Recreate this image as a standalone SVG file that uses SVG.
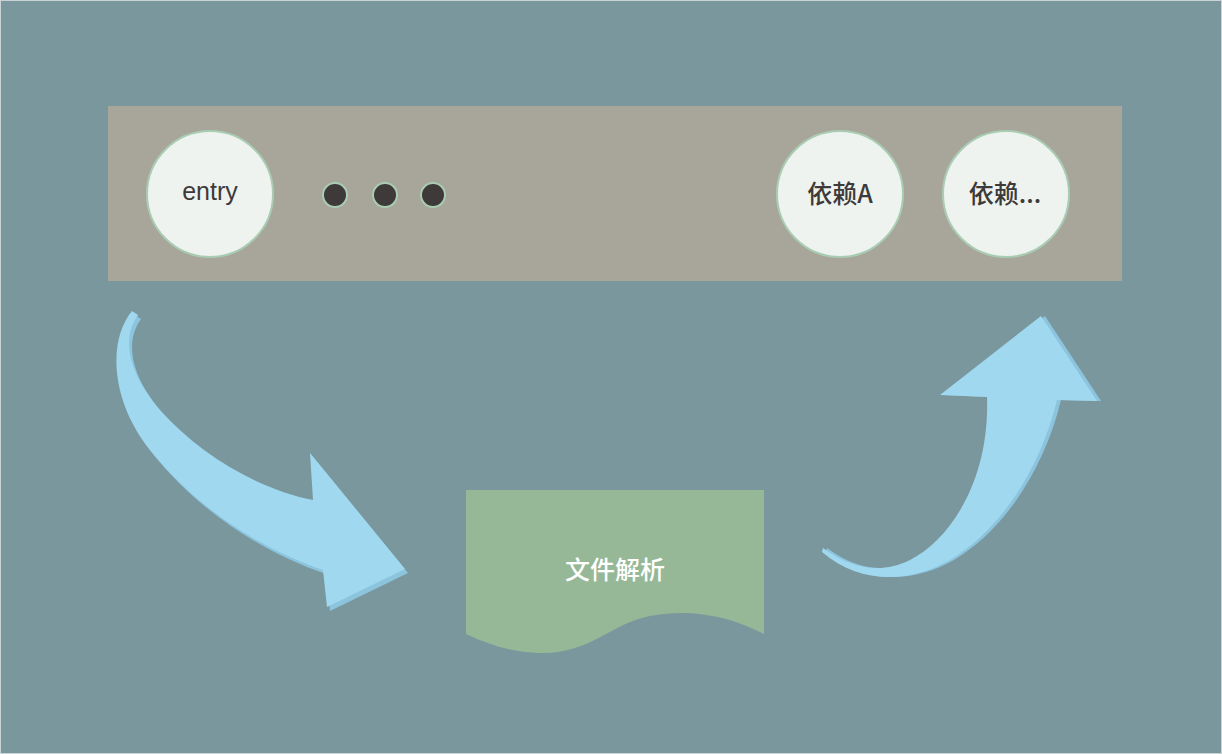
<svg xmlns="http://www.w3.org/2000/svg" width="1222" height="754" viewBox="0 0 1222 754">
<style>
.node{fill:#EEF3EF;stroke:#A9CDB3;stroke-width:2}
.dot{fill:#3E3A39;stroke:#A9CDB3;stroke-width:2}
.lbl{font-family:"Liberation Sans","Noto Sans CJK SC",sans-serif;font-size:25px;fill:#3E3A39;text-anchor:middle;dominant-baseline:central}
.cjk{font-family:"Noto Sans CJK SC","Liberation Sans",sans-serif;font-weight:500}
.arr{fill:#A0D8EF}
.arrSide{fill:#8CC4DE}
</style>
<rect x="0.5" y="0.5" width="1221" height="753" fill="#7A979E" stroke="#C9D3D6" stroke-width="1"/>
<rect x="108" y="106" width="1014" height="175" fill="#A8A69A"/>
<g id="entry">
<circle class="node" cx="210" cy="194" r="63"/>
<text class="lbl" x="210" y="191">entry</text>
</g>
<g id="dots">
<circle class="dot" cx="335" cy="195" r="12"/>
<circle class="dot" cx="385" cy="195" r="12"/>
<circle class="dot" cx="433" cy="195" r="12"/>
</g>
<g id="depA">
<circle class="node" cx="840" cy="194" r="63"/>
<text class="lbl cjk" x="840" y="192">依赖A</text>
</g>
<g id="depMore">
<circle class="node" cx="1006" cy="194" r="63"/>
<text class="lbl cjk" x="1005" y="192">依赖...</text>
</g>
<g id="parse">
<path d="M466 490 H764 V634 C730 616 690 608 650 616 C610 624 590 654 540 653 C510 652 490 645 466 634 Z" fill="#96B897"/>
<text x="615" y="568" font-family="'Noto Sans CJK SC',sans-serif" font-size="25" font-weight="500" fill="#FFFFFF" text-anchor="middle" dominant-baseline="central">文件解析</text>
</g>
<g id="connectors">
<g id="arrowDown">
<path class="arrSide" transform="translate(3,4)" d="M132 311 C108 340 110 400 150 450 C190 500 250 545 323 570 L327 607 L405 569 L310 453 L313 500 C260 490 200 455 160 410 C130 375 120 340 138 315 Z"/>
<path class="arr" d="M132 311 C108 340 110 400 150 450 C190 500 250 545 323 570 L327 607 L405 569 L310 453 L313 500 C260 490 200 455 160 410 C130 375 120 340 138 315 Z"/>
</g>
<g id="arrowUp">
<path class="arrSide" transform="translate(4,0)" d="M823 548 C850 568 880 575 910 560 C950 540 990 480 987 397 L940 395 L1041 316 L1097 401 L1057 400 C1040 470 1000 530 950 560 C910 583 860 585 822 552 Z"/>
<path class="arr" d="M823 548 C850 568 880 575 910 560 C950 540 990 480 987 397 L940 395 L1041 316 L1097 401 L1057 400 C1040 470 1000 530 950 560 C910 583 860 585 822 552 Z"/>
</g>
</g>
</svg>
